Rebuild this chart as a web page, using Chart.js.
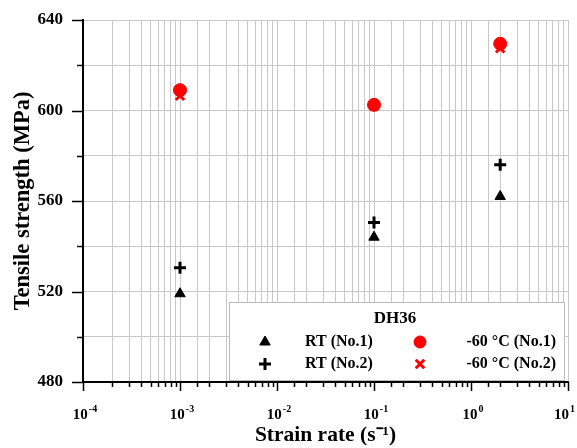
<!DOCTYPE html>
<html lang="en">
<head>
    <meta charset="UTF-8">
    <title>DH36 Tensile strength vs strain rate</title>
    <script src="https://cdn.jsdelivr.net/npm/chart.js"></script>
    <style>
        html, body { margin: 0; padding: 0; background: #fff; }
        .chart-container { width: 577px; height: 448px; position: relative; }
    </style>
</head>
<body>
    <div class="chart-container">
        <canvas id="strengthChart"></canvas>
    </div>
    <script>
        const strainRates = [1e-3, 0.1, 2];
        const rtNo1 = [519, 544, 562];
        const rtNo2 = [530.5, 550.5, 576];
        const lowNo1 = [609, 602.5, 629.5];
        const lowNo2 = [606.5, 602, 627.5];
        const yTicks = [480, 520, 560, 600, 640];
        const seriesLabels = ['RT (No.1)', 'RT (No.2)', '-60 °C (No.1)', '-60 °C (No.2)'];
        const legendTitle = 'DH36';

        const SERIF = "'Liberation Serif', 'Times New Roman', serif";
        Chart.defaults.font.family = SERIF;
        Chart.defaults.color = '#000';

        function decade(v) {
            const e = Math.round(Math.log10(v));
            return Math.abs(Math.log10(v) - e) < 1e-9 ? e : null;
        }

        function pts(ys) {
            return strainRates.map((x, i) => ({ x: x, y: ys[i] }));
        }

        // outside tick marks (long on majors) and 10^n labels with raised exponent
        const tickMarks = {
            id: 'tickMarks',
            afterDraw(chart) {
                const ctx = chart.ctx;
                const xs = chart.scales.x, ys = chart.scales.y;
                ctx.save();
                ctx.strokeStyle = '#000';
                ctx.lineWidth = 1.5;
                xs.ticks.forEach(t => {
                    const px = Math.round(xs.getPixelForValue(t.value)) + 0.5;
                    const e = decade(t.value);
                    ctx.beginPath();
                    ctx.moveTo(px, xs.top);
                    ctx.lineTo(px, xs.top + (e !== null ? 9 : 5));
                    ctx.stroke();
                    if (e !== null) {
                        ctx.fillStyle = '#000';
                        ctx.textBaseline = 'alphabetic';
                        ctx.font = 'bold 15px ' + SERIF;
                        const wb = ctx.measureText('10').width;
                        ctx.font = 'bold 10px ' + SERIF;
                        const exp = String(e);
                        const we = ctx.measureText(exp).width;
                        const x0 = Math.min(px - (wb + we) / 2 + 1, chart.width - 3 - wb - we);
                        ctx.textAlign = 'left';
                        ctx.font = 'bold 15px ' + SERIF;
                        ctx.fillText('10', x0, xs.top + 37);
                        ctx.font = 'bold 10px ' + SERIF;
                        ctx.fillText(exp, x0 + wb + 1, xs.top + 30);
                    }
                });
                ys.ticks.forEach(t => {
                    const py = Math.round(ys.getPixelForValue(t.value)) + 0.5;
                    const len = yTicks.includes(t.value) ? 11 : 6;
                    ctx.beginPath();
                    ctx.moveTo(ys.right, py);
                    ctx.lineTo(ys.right - len, py);
                    ctx.stroke();
                });
                ctx.restore();
            }
        };

        function drawMarker(ctx, style, x, y, color, r, lw) {
            ctx.save();
            ctx.fillStyle = color;
            ctx.strokeStyle = color;
            ctx.lineWidth = lw;
            Chart.helpers.drawPoint(ctx, { pointStyle: style, radius: r, borderWidth: lw }, x, y);
            ctx.restore();
        }

        const legendBox = {
            id: 'legendBox',
            afterDraw(chart) {
                const ctx = chart.ctx;
                const a = chart.chartArea;
                const left = a.left + 146, right = a.right - 4, top = a.bottom - 80, bottom = a.bottom - 2;
                ctx.save();
                ctx.fillStyle = '#fff';
                ctx.fillRect(left, top, right - left, bottom - top);
                ctx.strokeStyle = '#bbb';
                ctx.lineWidth = 1;
                ctx.strokeRect(left + 0.5, top + 0.5, right - left, bottom - top);
                ctx.fillStyle = '#000';
                ctx.font = 'bold 17px ' + SERIF;
                ctx.textAlign = 'center';
                ctx.textBaseline = 'middle';
                ctx.fillText(legendTitle, left + 166, top + 17);
                ctx.font = 'bold 16px ' + SERIF;
                ctx.textAlign = 'left';
                ctx.fillText(seriesLabels[0], left + 76, top + 40);
                ctx.fillText(seriesLabels[1], left + 76, top + 62);
                ctx.textAlign = 'right';
                ctx.fillText(seriesLabels[2], right - 8, top + 40);
                ctx.fillText(seriesLabels[3], right - 8, top + 62);
                ctx.restore();
                drawMarker(ctx, 'triangle', left + 36, top + 40, '#000', 6, 1);
                drawMarker(ctx, 'cross', left + 36, top + 62, '#000', 6, 3);
                drawMarker(ctx, 'circle', left + 191, top + 40, '#ff0000', 6, 1);
                drawMarker(ctx, 'crossRot', left + 191, top + 62, '#ff0000', 6, 3);
            }
        };

        const config = {
            type: 'scatter',
            data: {
                datasets: [
                    { label: seriesLabels[0], data: pts(rtNo1), pointStyle: 'triangle', pointRadius: 6,
                      backgroundColor: '#000', borderColor: '#000', borderWidth: 1 },
                    { label: seriesLabels[1], data: pts(rtNo2), pointStyle: 'cross', pointRadius: 6,
                      backgroundColor: '#000', borderColor: '#000', borderWidth: 3 },
                    { label: seriesLabels[3], data: pts(lowNo2), pointStyle: 'crossRot', pointRadius: 6,
                      backgroundColor: '#ff0000', borderColor: '#ff0000', borderWidth: 3 },
                    { label: seriesLabels[2], data: pts(lowNo1), pointStyle: 'circle', pointRadius: 6.5,
                      backgroundColor: '#ff0000', borderColor: '#ff0000', borderWidth: 1 }
                ]
            },
            options: {
                responsive: true,
                maintainAspectRatio: false,
                animation: false,
                events: [],
                layout: { padding: { top: 20, right: 9, left: 0, bottom: 0 } },
                plugins: {
                    legend: { display: false },
                    tooltip: { enabled: false }
                },
                scales: {
                    x: {
                        type: 'logarithmic',
                        min: 1e-4,
                        max: 10,
                        afterFit(s) { s.height = 66; s.paddingLeft = 0; s.paddingRight = 0; },
                        grid: { color: '#c8c8c8', lineWidth: 1, drawTicks: false },
                        border: { color: '#000', width: 2 },
                        ticks: {
                            autoSkip: false,
                            maxRotation: 0,
                            callback: () => ''
                        },
                        title: {
                            display: true,
                            text: 'Strain rate (s⁻¹)',
                            font: { size: 21.5, weight: 'bold' },
                            padding: { top: 0, bottom: 0 }
                        }
                    },
                    y: {
                        min: 480,
                        max: 640,
                        afterFit(s) { s.width = 83; s.paddingTop = 0; s.paddingBottom = 0; },
                        grid: { color: '#c8c8c8', lineWidth: 1, drawTicks: false },
                        border: { color: '#000', width: 2 },
                        ticks: {
                            stepSize: 20,
                            padding: 20,
                            font: { size: 17, weight: 'bold' },
                            callback: v => yTicks.includes(v) ? String(v) : ''
                        },
                        title: {
                            display: true,
                            text: 'Tensile strength (MPa)',
                            font: { size: 22.5, weight: 'bold' },
                            padding: { top: 10, bottom: 0 }
                        }
                    }
                }
            },
            plugins: [tickMarks, legendBox]
        };

        new Chart(document.getElementById('strengthChart'), config);
    </script>
</body>
</html>
